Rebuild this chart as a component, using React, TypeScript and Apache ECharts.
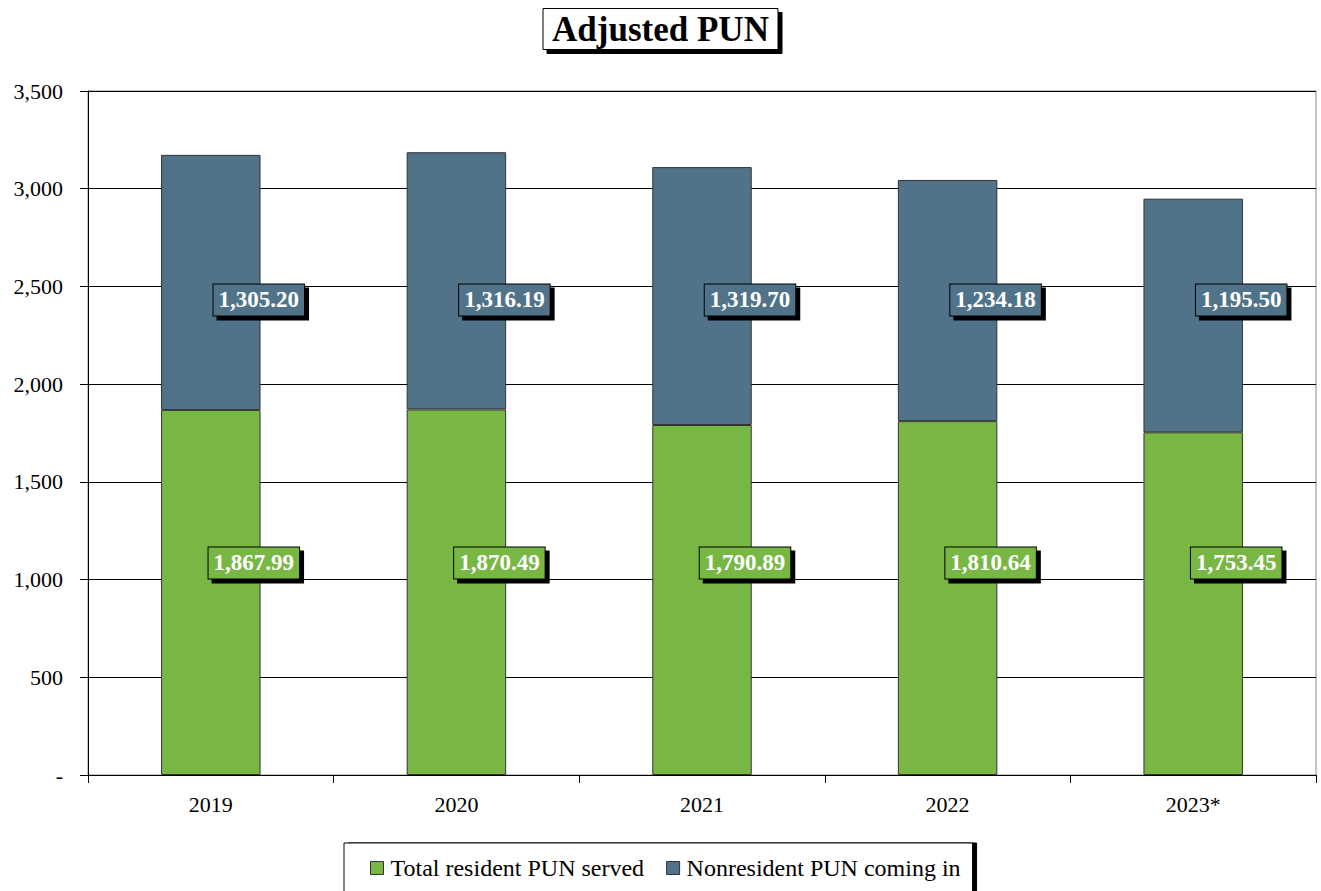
import React, { useEffect, useRef } from "react";
import * as echarts from "echarts";

const categories = ["2019", "2020", "2021", "2022", "2023*"];
const residentServed = [1867.99, 1870.49, 1790.89, 1810.64, 1753.45];
const nonresidentIn = [1305.2, 1316.19, 1319.7, 1234.18, 1195.5];
const yTicksMax = 3500;
const yInterval = 500;

const GREEN = "#79B744";
const BLUE = "#51738A";
const FONT = "Times New Roman, Liberation Serif, serif";

// layout helpers (pixel geometry of the plot)
const GRID_TOP = 91;
const GRID_BOTTOM_Y = 775;
const PX_PER_UNIT = (GRID_BOTTOM_Y - GRID_TOP) / yTicksMax;
const GREEN_LABEL_AT = 1085;
const BLUE_LABEL_AT = 2431;

const fmt2 = (v: number) =>
  v.toLocaleString("en-US", { minimumFractionDigits: 2, maximumFractionDigits: 2 });

const boxLabel = (bg: string, dx: number, dy: number) => ({
  show: true,
  position: "inside",
  offset: [dx, dy],
  color: "#fff",
  fontFamily: FONT,
  fontWeight: "bold",
  fontSize: 23,
  backgroundColor: bg,
  borderColor: "#000",
  borderWidth: 1,
  padding: [5, 5, 3, 5],
  shadowColor: "#000",
  shadowBlur: 0,
  shadowOffsetX: 4,
  shadowOffsetY: 4,
  formatter: (p: any) => fmt2(p.value),
});

export default function App() {
  const ref = useRef<HTMLDivElement>(null);
  useEffect(() => {
    if (!ref.current) return;
    const chart = echarts.init(ref.current, null, { renderer: "svg" });

    const greenData = residentServed.map((v) => ({
      value: v,
      label: boxLabel(GREEN, 43, -(GREEN_LABEL_AT - v / 2) * PX_PER_UNIT),
    }));
    const blueData = nonresidentIn.map((v, i) => ({
      value: v,
      label: boxLabel(
        BLUE,
        48,
        -(BLUE_LABEL_AT - (residentServed[i] + v / 2)) * PX_PER_UNIT
      ),
    }));

    const plain = { fontFamily: FONT, fontWeight: "normal", fontStyle: "normal", color: "#000" };

    chart.setOption({
      animation: false,
      backgroundColor: "#fff",
      textStyle: { fontFamily: FONT },
      title: {
        text: "Adjusted PUN",
        left: "center",
        top: 8,
        padding: [4, 9, 3, 9],
        borderColor: "#000",
        borderWidth: 1,
        backgroundColor: "#fff",
        shadowColor: "#000",
        shadowBlur: 0,
        shadowOffsetX: 4,
        shadowOffsetY: 4,
        textStyle: {
          fontFamily: FONT,
          fontWeight: "bold",
          fontSize: 35,
          color: "#000",
        },
      },
      legend: {
        left: 344,
        top: 843,
        padding: [13, 12, 40, 26],
        itemGap: 22,
        itemWidth: 13,
        itemHeight: 13,
        icon: "rect",
        borderColor: "#000",
        borderWidth: 1,
        backgroundColor: "#fff",
        shadowColor: "#000",
        shadowBlur: 0,
        shadowOffsetX: 4,
        shadowOffsetY: 0,
        textStyle: { ...plain, fontSize: 24, padding: [0, 0, 0, 2] },
        itemStyle: { borderColor: "#333", borderWidth: 1 },
      },
      grid: {
        left: 88,
        right: 5,
        top: GRID_TOP,
        bottom: 891 - GRID_BOTTOM_Y,
        show: true,
        borderColor: "#8a8a8a",
        borderWidth: 1,
        containLabel: false,
      },
      xAxis: {
        type: "category",
        data: categories,
        axisLine: { show: true, lineStyle: { color: "#000", width: 1 } },
        axisTick: { show: true, alignWithLabel: false, length: 8, lineStyle: { color: "#000" } },
        axisLabel: { ...plain, fontSize: 22, margin: 18 },
      },
      yAxis: {
        type: "value",
        min: 0,
        max: yTicksMax,
        interval: yInterval,
        axisLine: { show: true, lineStyle: { color: "#000", width: 1 } },
        axisTick: { show: true, length: 8, lineStyle: { color: "#000" } },
        splitLine: { show: true, lineStyle: { color: "#000", width: 1 } },
        axisLabel: {
          ...plain,
          fontSize: 22,
          margin: 25,
          formatter: (v: number) => (v === 0 ? "-" : v.toLocaleString("en-US")),
        },
      },
      series: [
        {
          name: "Total resident PUN served",
          type: "bar",
          stack: "pun",
          barWidth: "40.5%",
          itemStyle: { color: GREEN, borderColor: "#333", borderWidth: 1 },
          data: greenData,
          z: 3,
        },
        {
          name: "Nonresident PUN coming in",
          type: "bar",
          stack: "pun",
          barWidth: "40.5%",
          itemStyle: { color: BLUE, borderColor: "#333", borderWidth: 1 },
          data: blueData,
          z: 3,
        },
      ],
    });
    return () => chart.dispose();
  }, []);
  return (
    <div
      ref={ref}
      style={{ position: "fixed", left: 0, top: 0, width: 1321, height: 891 }}
    />
  );
}
